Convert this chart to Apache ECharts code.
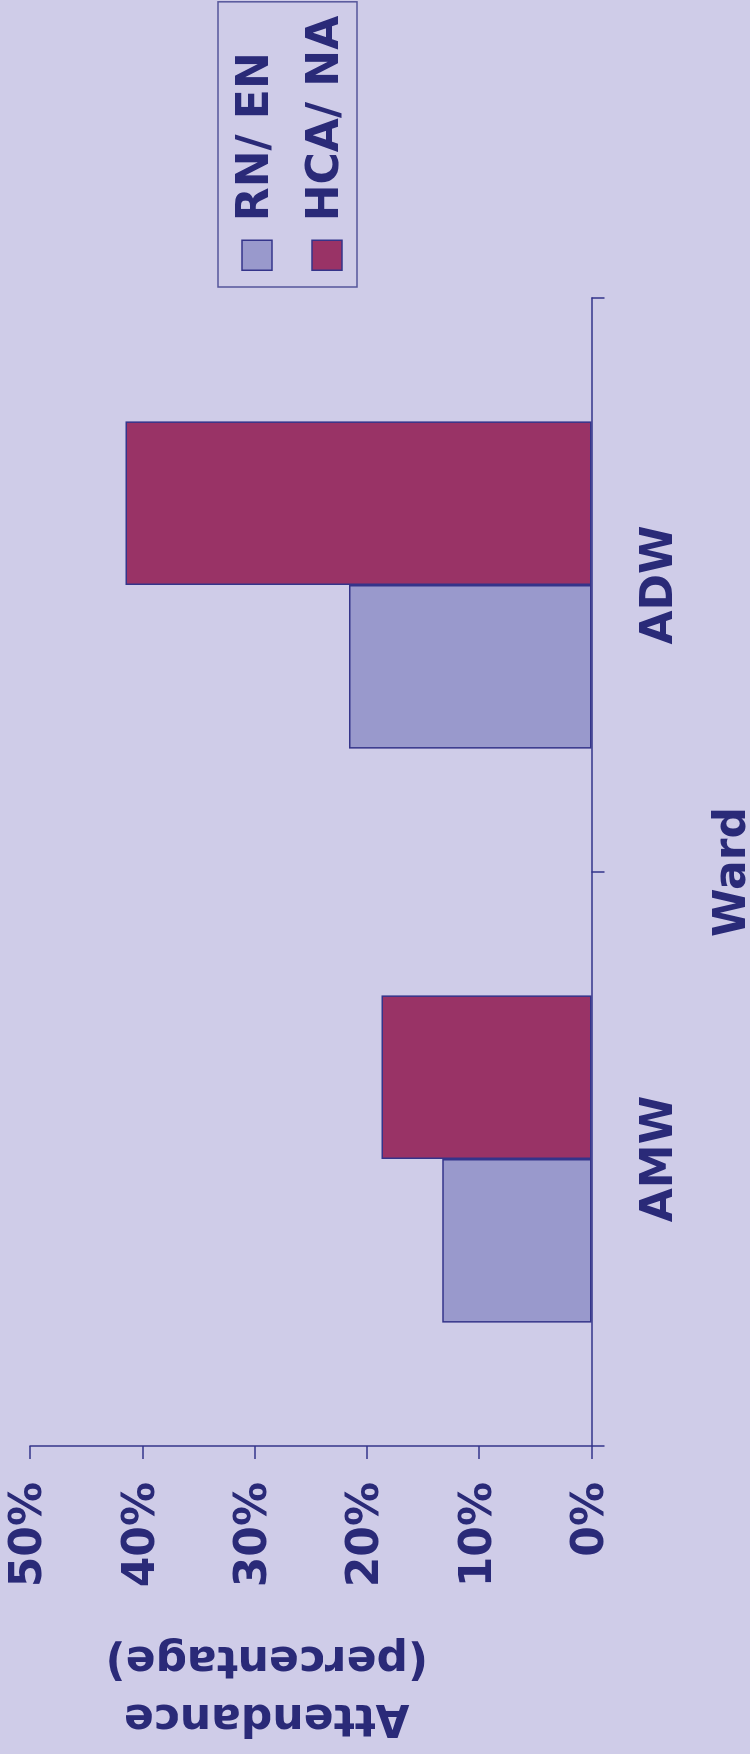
<!DOCTYPE html>
<html>
<head>
<meta charset="utf-8">
<title>Attendance by Ward</title>
<script src="https://cdn.jsdelivr.net/npm/echarts@6/dist/echarts.min.js"></script>
<style>
    html, body {
        margin: 0;
        padding: 0;
        width: 750px;
        height: 1754px;
        overflow: hidden;
        background: #cfcce8;
    }
    /* chart is laid out landscape, then turned a quarter turn to the left */
    #chart {
        position: absolute;
        left: 0;
        top: 0;
        width: 1754px;
        height: 750px;
        transform-origin: 0 0;
        transform: translate(0, 1754px) rotate(-90deg);
    }
</style>
</head>
<body>
<div id="chart"></div>
<script>
// Chart data
const wards = ['AMW', 'ADW'];
const seriesNames = ['RN/ EN', 'HCA/ NA'];
const rnEn = [13.3, 21.6];
const hcaNa = [18.7, 41.5];
const valueTicks = [0, 10, 20, 30, 40, 50];

const textColor = '#2a2a78';
const lineColor = '#34348a';
const font = 'DejaVu Sans';

document.addEventListener('DOMContentLoaded', function() {
    initChart();
});

function initChart() {
    const chartDom = document.getElementById('chart');
    const myChart = echarts.init(chartDom);

    const option = {
        backgroundColor: '#cfcce8',
        animation: false,
        color: ['#9999cc', '#993366'],
        textStyle: {
            fontFamily: font
        },
        legend: {
            orient: 'vertical',
            left: 1467,
            top: 218,
            padding: [11, 14, 2, 16],
            itemGap: 14,
            itemWidth: 30,
            itemHeight: 30,
            icon: 'rect',
            borderColor: '#55559a',
            borderWidth: 1.5,
            data: seriesNames,
            itemStyle: {
                borderColor: lineColor,
                borderWidth: 1.5
            },
            textStyle: {
                color: textColor,
                fontSize: 44,
                fontWeight: 'bold',
                fontFamily: font,
                lineHeight: 44,
                padding: [12, 0, 0, 14]
            }
        },
        grid: {
            left: 308,
            right: 298,
            top: 30,
            bottom: 158.5,
            containLabel: false,
            outerBoundsMode: 'none'
        },
        xAxis: {
            type: 'category',
            data: wards,
            name: 'Ward',
            nameLocation: 'middle',
            nameGap: 120,
            nameTextStyle: {
                color: textColor,
                fontSize: 44,
                fontWeight: 'bold',
                fontFamily: font
            },
            axisLine: {
                lineStyle: { color: lineColor, width: 1.5 }
            },
            axisTick: {
                show: true,
                alignWithLabel: false,
                length: 13,
                lineStyle: { color: lineColor, width: 1.5 }
            },
            axisLabel: {
                margin: 47,
                color: textColor,
                fontSize: 44,
                fontWeight: 'bold',
                fontFamily: font
            }
        },
        yAxis: {
            type: 'value',
            min: valueTicks[0],
            max: valueTicks[valueTicks.length - 1],
            interval: 10,
            name: 'Attendance\n(percentage)',
            nameLocation: 'middle',
            nameRotate: 90,
            nameGap: 183,
            nameTextStyle: {
                color: textColor,
                fontSize: 44,
                fontWeight: 'bold',
                fontFamily: font,
                lineHeight: 58,
                padding: [0, 0, 0, 88]
            },
            splitLine: { show: false },
            axisLine: {
                show: true,
                lineStyle: { color: lineColor, width: 1.5 }
            },
            axisTick: {
                show: true,
                length: 13,
                lineStyle: { color: lineColor, width: 1.5 }
            },
            axisLabel: {
                margin: 36,
                padding: [9, 0, 0, 0],
                color: textColor,
                fontSize: 44,
                fontWeight: 'bold',
                fontFamily: font,
                formatter: '{value}%'
            }
        },
        series: [{
            name: seriesNames[0],
            type: 'bar',
            data: rnEn,
            barGap: '0%',
            barCategoryGap: '43%',
            itemStyle: {
                borderColor: lineColor,
                borderWidth: 1.5
            }
        }, {
            name: seriesNames[1],
            type: 'bar',
            data: hcaNa,
            barGap: '0%',
            barCategoryGap: '43%',
            itemStyle: {
                borderColor: lineColor,
                borderWidth: 1.5
            }
        }]
    };

    myChart.setOption(option);

    // Make chart responsive
    window.addEventListener('resize', function() {
        myChart.resize();
    });
}
</script>
</body>
</html>
